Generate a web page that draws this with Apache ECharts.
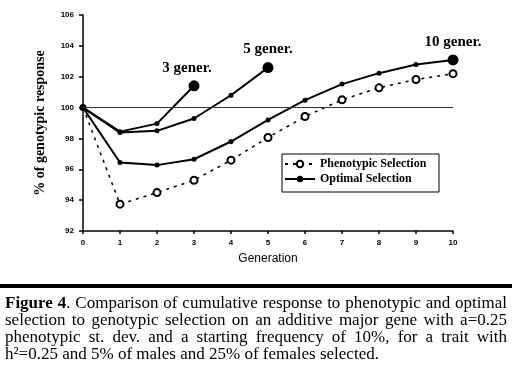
<!DOCTYPE html>
<html><head><meta charset="utf-8">
<script src="https://cdn.jsdelivr.net/npm/echarts@6/dist/echarts.min.js"></script>
<style>html,body{margin:0;padding:0;background:#fff}#c{width:512px;height:384px}</style>
</head><body><div id="c"></div>
<script>
// ---- data ----
const generations = [0,1,2,3,4,5,6,7,8,9,10];
const phenotypic = [100, 93.74, 94.49, 95.29, 96.59, 98.06, 99.42, 100.5, 101.28, 101.82, 102.2];
const optimal10 = [100, 96.44, 96.27, 96.65, 97.8, 99.2, 100.48, 101.52, 102.23, 102.79, 103.09];
const optimal5 = [100, 98.38, 98.49, 99.29, 100.8, 102.59];
const optimal3 = [100, 98.44, 98.96, 101.41];
const horizonLabels = ['3 gener.', '5 gener.', '10 gener.'];
const legendNames = ['Phenotypic Selection', 'Optimal Selection'];
const yMin = 92, yMax = 106, yStep = 2;
const xMin = 0, xMax = 10, xStep = 1;
const yTitle = '% of genotypic response';
const xTitle = 'Generation';
const captionLines = [
  '**Figure** **4**. Comparison of cumulative response to phenotypic and optimal',
  'selection to genotypic selection on an additive major gene with a=0.25',
  'phenotypic st. dev. and a starting frequency of 10%,  for a trait with',
  'h\u00B2=0.25 and 5% of males and 25% of females selected.'
];

// ---- helpers ----
const serif = '"Liberation Serif","Times New Roman",serif';
const sans = '"Liberation Sans",Arial,sans-serif';
function pairs(vals){ return vals.map((v,i)=>[generations[i], v]); }
function horizonData(vals, label, offX, firstSize){
  const d = pairs(vals).map(p=>({value:p}));
  d[0].symbolSize = firstSize;
  const last = d[d.length-1];
  last.symbolSize = 11;
  last.label = {show:true, position:'top', distance:5, offset:[offX,0], formatter: label,
    fontFamily: serif, fontWeight:'bold', fontSize:15, color:'#000'};
  return d;
}

// caption layout (justified)
const cv = document.createElement('canvas').getContext('2d');
const capSize = 17;
function measure(t, bold){ cv.font = (bold?'bold ':'') + capSize + 'px ' + serif; return cv.measureText(t).width; }
function parseWord(w){
  const parts = w.split('**'); const segs = [];
  parts.forEach((p,i)=>{ if(p) segs.push({t:p, b: i%2===1}); });
  return segs;
}
const capLeft = 5, capRight = 507, capY0 = 303.5, capDY = 17;
const captionEls = [];
captionLines.forEach((line, li)=>{
  const words = line.split(' ').filter(s=>s.length).map(parseWord);
  const widths = words.map(ws=>ws.reduce((a,s)=>a+measure(s.t,s.b),0));
  const total = widths.reduce((a,b)=>a+b,0);
  const last = li === captionLines.length-1;
  const gap = last ? measure(' ', false) : (capRight - capLeft - total)/(words.length-1);
  let x = capLeft;
  words.forEach((ws, wi)=>{
    let sx = x;
    ws.forEach(s=>{
      captionEls.push({type:'text', x:sx, y: capY0 + li*capDY, silent:true,
        style:{text:s.t, fontFamily:serif, fontSize:capSize, fontWeight: s.b?'bold':'normal',
          fill:'#000', verticalAlign:'middle', align:'left'}});
      sx += measure(s.t, s.b);
    });
    x += widths[wi] + gap;
  });
});

const chart = echarts.init(document.getElementById('c'), null, {renderer:'canvas'});
const option = {
  animation:false,
  backgroundColor:'#fff',
  grid:{left:83, right:59, top:15, bottom:153},
  xAxis:{type:'value', min:xMin, max:xMax, interval:xStep,
    name:xTitle, nameLocation:'middle', nameGap:22,
    nameTextStyle:{fontFamily:sans, fontSize:12, color:'#000'},
    axisLine:{lineStyle:{color:'#000', width:1.5}},
    axisTick:{show:true, length:3, lineStyle:{color:'#000', width:1.5}},
    axisLabel:{fontSize:8, fontWeight:'bold', color:'#000', fontFamily:sans, margin:8},
    splitLine:{show:false}},
  yAxis:{type:'value', min:yMin, max:yMax, interval:yStep,
    name:yTitle, nameLocation:'middle', nameGap:36, nameRotate:90,
    nameTextStyle:{fontFamily:serif, fontSize:14, fontWeight:'bold', color:'#000'},
    axisLine:{show:true, lineStyle:{color:'#000', width:1.5}},
    axisTick:{show:true, length:4, lineStyle:{color:'#000', width:1.5}},
    axisLabel:{fontSize:8, fontWeight:'bold', color:'#000', fontFamily:sans, margin:9},
    splitLine:{show:false}},
  legend:{data:legendNames, orient:'vertical', left:284, top:158, itemGap:3,
    itemWidth:30, itemHeight:8, padding:0,
    textStyle:{fontFamily:serif, fontWeight:'bold', fontSize:12, color:'#000'}},
  graphic:[
    {type:'rect', shape:{x:282, y:154, width:157, height:38}, silent:true,
      style:{fill:'none', stroke:'#000', lineWidth:1}},
    {type:'rect', shape:{x:0, y:284, width:512, height:4}, silent:true, style:{fill:'#000'}},
    ...captionEls
  ],
  series:[
    {name:legendNames[0], type:'line', data:pairs(phenotypic).map((p,i)=>i===0?{value:p,symbolSize:5}:{value:p}), color:'#000',
      symbol:'emptyCircle', symbolSize:7, itemStyle:{borderWidth:1},
      lineStyle:{type:[3,5], width:1.5}, z:3,
      markLine:{silent:true, symbol:'none', label:{show:false},
        lineStyle:{color:'#333', width:1.2, type:'solid'}, data:[{yAxis:100}]}},
    {name:legendNames[1], type:'line', data:horizonData(optimal10, horizonLabels[2], 0, 4), color:'#000',
      symbol:'circle', symbolSize:5, lineStyle:{width:2}, z:4},
    {name:'Optimal 5', type:'line', data:horizonData(optimal5, horizonLabels[1], 0, 0), color:'#000',
      symbol:'circle', symbolSize:5, lineStyle:{width:2}, z:4},
    {name:'Optimal 3', type:'line', data:horizonData(optimal3, horizonLabels[0], -7, 0), color:'#000',
      symbol:'circle', symbolSize:5, lineStyle:{width:2}, z:4}
  ]
};
chart.setOption(option);
</script></body></html>
